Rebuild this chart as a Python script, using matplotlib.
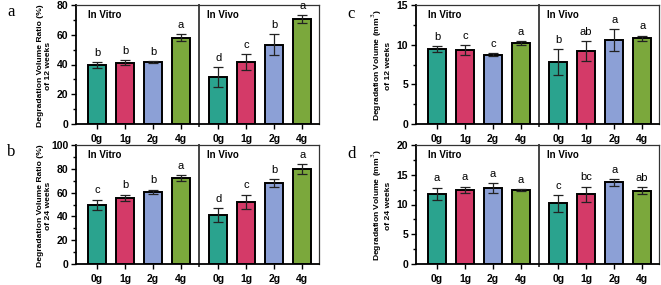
import matplotlib.pyplot as plt
from matplotlib.ticker import MultipleLocator
import numpy as np

plt.rcParams['font.family'] = ['Liberation Sans', 'DejaVu Sans']

groups = ["0g", "1g", "2g", "4g"]
colors = ['#2aa38e', '#d43a68', '#8ca0d6', '#7ba83c']

# a: ratio of 12 weeks
a_vitro = [39.6, 41.2, 41.9, 58.0]
a_vitro_sd = [2.2, 1.5, 0.6, 2.5]
a_vivo = [31.8, 41.7, 53.4, 70.6]
a_vivo_sd = [6.7, 5.2, 7.0, 2.5]
a_let_vitro = ["b", "b", "b", "a"]
a_let_vivo = ["d", "c", "b", "a"]

# b: ratio of 24 weeks
b_vitro = [49.6, 55.7, 60.8, 72.0]
b_vitro_sd = [4.6, 2.6, 1.7, 2.4]
b_vivo = [41.0, 52.4, 68.3, 80.0]
b_vivo_sd = [5.8, 6.0, 3.4, 4.3]
b_let_vitro = ["c", "b", "b", "a"]
b_let_vivo = ["d", "c", "b", "a"]

# c: volume of 12 weeks
c_vitro = [9.4, 9.3, 8.75, 10.2]
c_vitro_sd = [0.38, 0.62, 0.18, 0.25]
c_vivo = [7.8, 9.2, 10.6, 10.8]
c_vivo_sd = [1.65, 1.2, 1.4, 0.35]
c_let_vitro = ["b", "c", "c", "a"]
c_let_vivo = ["b", "ab", "a", "a"]

# d: volume of 24 weeks
d_vitro = [11.8, 12.5, 12.8, 12.4]
d_vitro_sd = [1.05, 0.5, 0.85, 0.2]
d_vivo = [10.2, 11.7, 13.7, 12.3]
d_vivo_sd = [1.45, 1.3, 0.6, 0.6]
d_let_vitro = ["a", "a", "a", "a"]
d_let_vivo = ["c", "bc", "a", "ab"]

pos_vitro = np.array([0, 1, 2, 3])
pos_vivo = np.array([4.33, 5.33, 6.33, 7.33])
divider = 3.64

fig = plt.figure(figsize=(6.61, 2.85), dpi=100)
W, H = 661, 285


def panel(rect_px, vitro, vitro_sd, vivo, vivo_sd, let_vitro, let_vivo,
          ymax, major, minor, ylabel, letter, letter_xy):
    l, t, r, b = rect_px
    ax = fig.add_axes([l / W, 1 - b / H, (r - l) / W, (b - t) / H])
    for pos, vals, sds in [(pos_vitro, vitro, vitro_sd), (pos_vivo, vivo, vivo_sd)]:
        ax.bar(pos, vals, width=0.64, color=colors, edgecolor='black', linewidth=1.4, zorder=2)
        ax.errorbar(pos, vals, yerr=sds, fmt='none', ecolor='#222222', elinewidth=0.9,
                    capsize=3.5, capthick=0.9, zorder=3)
    off = ymax * 0.035
    for pos, vals, sds, lets in [(pos_vitro, vitro, vitro_sd, let_vitro),
                                 (pos_vivo, vivo, vivo_sd, let_vivo)]:
        for x, v, s, txt in zip(pos, vals, sds, lets):
            ax.text(x, v + s + off, txt, ha='center', va='bottom', fontsize=8)
    ax.set_ylim(0, ymax)
    ax.set_xlim(-0.75, 7.93)
    ax.yaxis.set_major_locator(MultipleLocator(major))
    ax.yaxis.set_minor_locator(MultipleLocator(minor))
    ax.set_xticks(np.concatenate([pos_vitro, pos_vivo]))
    ax.set_xticklabels(groups + groups, fontweight='bold', fontsize=7.5)
    for lab in ax.get_yticklabels():
        lab.set_fontweight('bold')
    ax.tick_params(axis='both', which='major', length=3.5, width=1.0, labelsize=7.5, pad=2)
    ax.tick_params(axis='y', which='minor', length=2, width=1.0)
    ax.tick_params(axis='x', pad=4)
    for side in ['left', 'bottom']:
        ax.spines[side].set_linewidth(1.3)
    for side in ['top', 'right']:
        ax.spines[side].set_linewidth(0.9)
        ax.spines[side].set_color('#333333')
    ax.axvline(divider, ymin=-0.02, ymax=1, color='#444444', linewidth=1.4, clip_on=False)
    ax.set_ylabel(ylabel, fontweight='bold', fontsize=6.1, linespacing=1.2)
    ax.yaxis.set_label_coords(-0.098, 0.49)
    ax.text(0.05, 0.915, "In Vitro", transform=ax.transAxes, fontweight='bold',
            fontsize=7, va='center')
    ax.text(0.54, 0.915, "In Vivo", transform=ax.transAxes, fontweight='bold',
            fontsize=7, va='center')
    fig.text(letter_xy[0] / W, 1 - letter_xy[1] / H, letter, family='Liberation Serif',
             fontsize=12, ha='left', va='center')
    return ax


panel((76, 5, 319, 124), a_vitro, a_vitro_sd, a_vivo, a_vivo_sd, a_let_vitro, a_let_vivo,
      80, 20, 10, "Degradation Volume Ratio (%)\nof 12 weeks", "a", (7, 12))
panel((76, 145, 319, 264), b_vitro, b_vitro_sd, b_vivo, b_vivo_sd, b_let_vitro, b_let_vivo,
      100, 20, 10, "Degradation Volume Ratio (%)\nof 24 weeks", "b", (7, 152))
panel((416, 5, 659, 124), c_vitro, c_vitro_sd, c_vivo, c_vivo_sd, c_let_vitro, c_let_vivo,
      15, 5, 2.5, "Degradation Volume (mm$^3$)\nof 12 weeks", "c", (347, 14))
panel((416, 145, 659, 264), d_vitro, d_vitro_sd, d_vivo, d_vivo_sd, d_let_vitro, d_let_vivo,
      20, 5, 2.5, "Degradation Volume (mm$^3$)\nof 24 weeks", "d", (347, 154))

fig.savefig('out.png', dpi=100)
